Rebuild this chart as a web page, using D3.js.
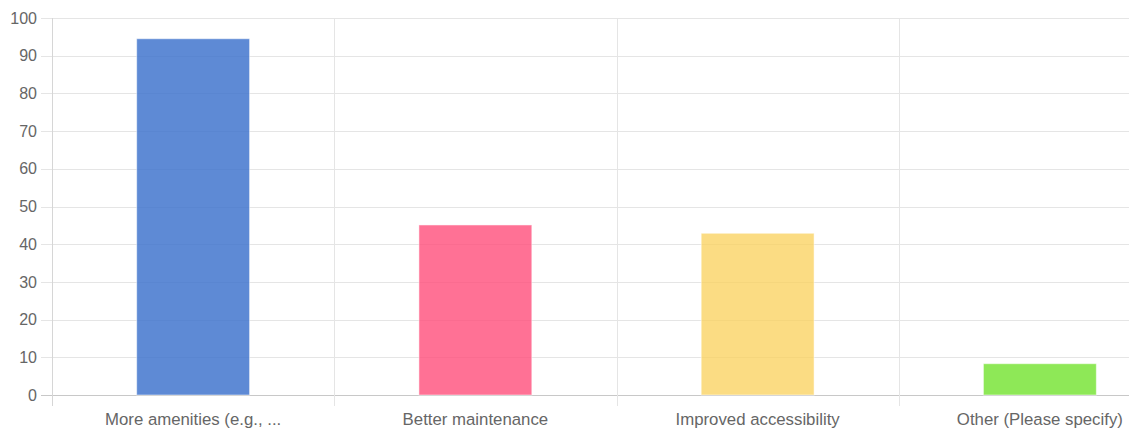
<!DOCTYPE html>
<html>
<head>
  <meta charset="utf-8">
  <script src="https://d3js.org/d3.v7.min.js"></script>
  <style>
    body { margin: 0; background: #fff; }
    svg { display: block; font-family: "Liberation Sans", Arial, sans-serif; }
    .tick-label { fill: #666; font-size: 16px; }
    .x-label { font-size: 16.8px; }
  </style>
</head>
<body>
<script>
  // chart data
  var categories = ["More amenities (e.g., ...", "Better maintenance", "Improved accessibility", "Other (Please specify)"];
  var values = [94.5, 45.1, 42.9, 8.3];
  var colors = ["rgba(61,114,204,0.83)", "rgba(255,77,122,0.8)", "rgba(249,208,90,0.75)", "rgba(110,226,40,0.78)"];
  var yTicks = [0, 10, 20, 30, 40, 50, 60, 70, 80, 90, 100];

  var width = 1129, height = 429;
  var plotLeft = 52, plotTop = 18, plotBottom = 395;
  // the last band runs past the canvas edge, as in the original
  var plotRight = 1181;

  var svg = d3.select("body").append("svg")
    .attr("width", width)
    .attr("height", height);

  var x = d3.scaleBand().domain(categories).range([plotLeft, plotRight]);
  var y = d3.scaleLinear().domain([0, 100]).range([plotBottom, plotTop]);

  // horizontal grid + left tick marks
  svg.selectAll(".hgrid").data(yTicks).enter().append("line")
    .attr("x1", plotLeft - 11).attr("x2", width)
    .attr("y1", function(d) { return Math.round(y(d)) + 0.5; })
    .attr("y2", function(d) { return Math.round(y(d)) + 0.5; })
    .attr("stroke", function(d) { return d === 0 ? "#c8c8c8" : "#e5e5e5"; });

  // vertical grid (category boundaries) + bottom tick marks
  svg.selectAll(".vgrid").data(categories).enter().append("line")
    .attr("x1", function(d) { return Math.round(x(d)) + 0.5; })
    .attr("x2", function(d) { return Math.round(x(d)) + 0.5; })
    .attr("y1", plotTop).attr("y2", plotBottom + 11)
    .attr("stroke", function(d, i) { return i === 0 ? "#d6d6d6" : "#e5e5e5"; });

  // bars
  var bw = x.bandwidth() * 0.4;
  svg.selectAll(".bar").data(values).enter().append("rect")
    .attr("x", function(d, i) { return x(categories[i]) + x.bandwidth() / 2 - bw / 2; })
    .attr("y", function(d) { return y(d); })
    .attr("width", bw)
    .attr("height", function(d) { return plotBottom - y(d); })
    .attr("fill", function(d, i) { return colors[i]; })
    .attr("stroke", "rgba(255,255,255,0.5)")
    .attr("stroke-width", 1);

  // y tick labels
  svg.selectAll(".ylab").data(yTicks).enter().append("text")
    .attr("class", "tick-label")
    .attr("x", 37)
    .attr("y", function(d) { return y(d); })
    .attr("dy", "0.35em")
    .attr("text-anchor", "end")
    .text(function(d) { return d; });

  // x tick labels
  svg.selectAll(".xlab").data(categories).enter().append("text")
    .attr("class", "tick-label x-label")
    .attr("x", function(d) { return x(d) + x.bandwidth() / 2; })
    .attr("y", 425)
    .attr("text-anchor", "middle")
    .text(function(d) { return d; });
</script>
</body>
</html>
